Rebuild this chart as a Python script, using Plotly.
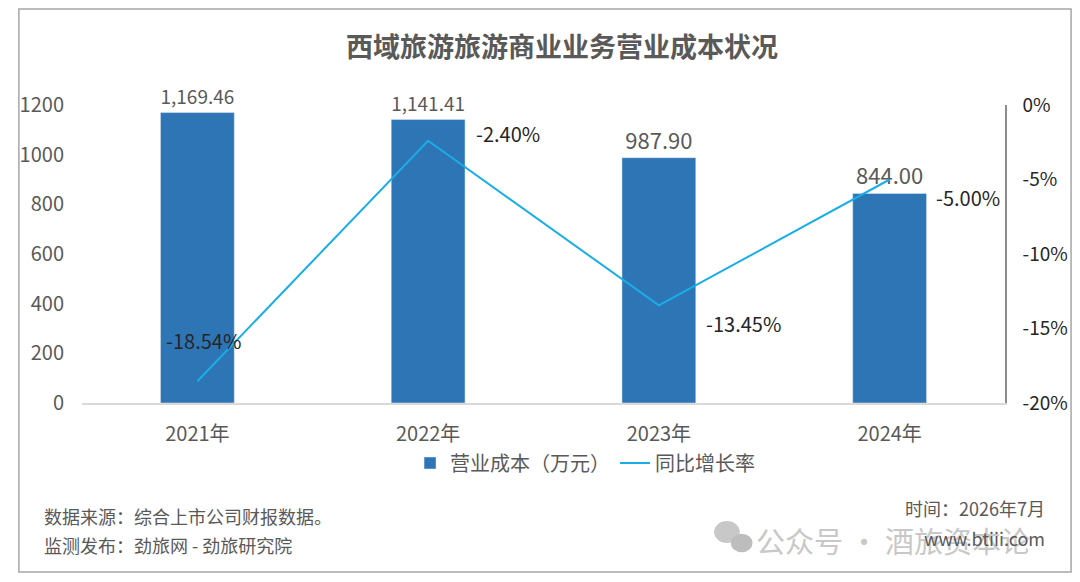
import plotly.graph_objects as go

# 数据
years = ["2021年", "2022年", "2023年", "2024年"]
cost = [1169.46, 1141.41, 987.90, 844.00]
growth = [-0.1854, -0.0240, -0.1345, -0.0500]
growth_text = ["-18.54%", "-2.40%", "-13.45%", "-5.00%"]
pct_ticks = [-0.20, -0.15, -0.10, -0.05, 0.0]
pct_labels = ["-20%", "-15%", "-10%", "-5%", "0%"]
# label offsets (px) for the growth labels, like Excel's placement
growth_shift = [(6, 41, "center"), (46, 7, "left"), (45, -18, "left"), (44, -18, "left")]

# the page puts the figure 8px in from the window corner
OFF = 8
W, H = 1080 - OFF, 582 - OFF
L, R, T, B = 73, 1009, 105, 403  # plot area in window pixels
FONT = "Noto Sans CJK SC, Noto Sans, sans-serif"
NARROW = "Liberation Sans Narrow, Arial Narrow, Noto Sans CJK SC, sans-serif"
GRAY = "#595959"


def px_x(x):
    return (x - L) / (R - L)


def px_y(y):
    return (B - y) / (B - T)


fig = go.Figure()

fig.add_trace(go.Bar(
    x=years, y=cost, name="营业成本（万元）",
    marker_color="#2E75B6", width=0.32,
    text=cost, texttemplate="%{y:,.2f}", textposition="outside",
    textfont=dict(size=22, color=GRAY, family=FONT),
    cliponaxis=False,
))

fig.add_trace(go.Scatter(
    x=years, y=growth, yaxis="y2", name="同比增长率",
    mode="lines", line=dict(color="#1AAEE6", width=2),
))

# growth labels
for yr, g, txt, (dx, dy, anc) in zip(years, growth, growth_text, growth_shift):
    fig.add_annotation(x=yr, y=g, xref="x", yref="y2", text=txt, showarrow=False,
                       xanchor=anc, yanchor="middle", xshift=dx, yshift=dy,
                       font=dict(size=20, color="#262626", family=NARROW))

fig.update_layout(
    width=W, height=H,
    margin=dict(l=L - OFF, r=1080 - R, t=T - OFF, b=582 - B),
    paper_bgcolor="white", plot_bgcolor="white",
    font=dict(family=FONT, color=GRAY),
    showlegend=True,
    legend=dict(orientation="h", x=0.545, xanchor="center", y=px_y(463), yanchor="middle",
                font=dict(size=20, color=GRAY, family=FONT), traceorder="normal",
                itemwidth=30),
    xaxis=dict(type="category", range=[-0.5, 3.5], showline=True, linecolor="#D9D9D9",
               linewidth=1.5, showgrid=False, ticks="", ticklabelstandoff=12,
               tickfont=dict(size=20, color=GRAY)),
    yaxis=dict(range=[0, 1200], dtick=200, showgrid=False, showline=False, zeroline=False,
               ticks="", ticklabelstandoff=17, tickfont=dict(size=20, color=GRAY)),
    yaxis2=dict(overlaying="y", side="right", range=[-0.20, 0],
                tickvals=pct_ticks, ticktext=pct_labels,
                showgrid=False, zeroline=False, showline=True, linecolor="#8C8C8C", linewidth=1.5,
                ticks="", ticklabelstandoff=12,
                tickfont=dict(size=19, color="#262626", family=NARROW)),
)

# title
fig.add_annotation(x=px_x(560), y=px_y(45), xref="paper", yref="paper",
                   text="<b>西域旅游旅游商业业务营业成本状况</b>", showarrow=False,
                   xanchor="center", yanchor="middle",
                   font=dict(size=27, color=GRAY, family=FONT))

# wechat-style watermark icon
for cx, cy, r, col in [(727, 532, 13, "#C8C8C8"), (742, 543, 11, "#BDBDBD")]:
    fig.add_shape(type="circle", xref="paper", yref="paper",
                  x0=px_x(cx - r), x1=px_x(cx + r), y0=px_y(cy + r * 0.85), y1=px_y(cy - r * 0.85),
                  line=dict(width=0), fillcolor=col, layer="below")

# footer notes
notes = [
    ("数据来源：综合上市公司财报数据。", 32, 516, "left", 18, GRAY),
    ("监测发布：劲旅网 - 劲旅研究院", 32, 545, "left", 18, GRAY),
    ("时间：2026年7月", 1052, 508, "right", 18, GRAY),
    ("公众号 · 酒旅资本论", 1036, 540, "right", 29, "#C8C8C8"),
    ("www.btiii.com", 1052, 538, "right", 18, GRAY),
]
for txt, x, y, anc, size, col in notes:
    fig.add_annotation(x=px_x(x), y=px_y(y), xref="paper", yref="paper", text=txt,
                       showarrow=False, xanchor=anc, yanchor="middle",
                       font=dict(size=size, color=col, family=FONT))

# outer frame
fig.add_shape(type="rect", xref="paper", yref="paper",
              x0=px_x(OFF + 1), x1=px_x(1076), y0=px_y(572), y1=px_y(OFF + 1),
              line=dict(color="#A6A6A6", width=1.5), fillcolor="rgba(0,0,0,0)", layer="below")

fig.write_html("out.html")
